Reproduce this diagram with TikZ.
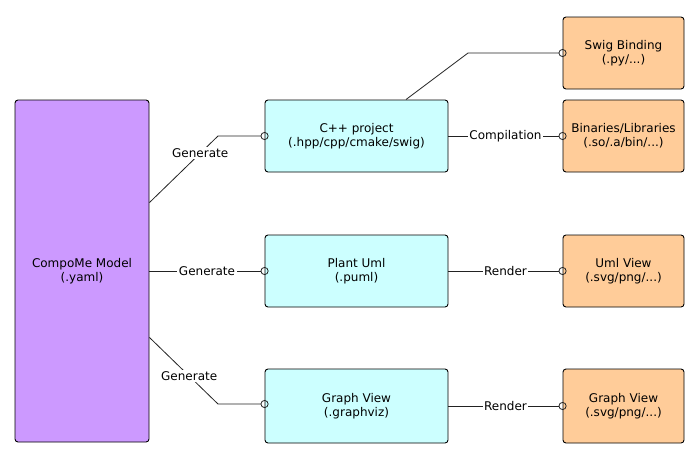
\documentclass[tikz,border=0pt]{standalone}
\usepackage{fontspec}
\setmainfont{DejaVu Sans}
\usetikzlibrary{arrows.meta}
\definecolor{modelfill}{HTML}{CC99FF}
\definecolor{srcfill}{HTML}{CCFFFF}
\definecolor{outfill}{HTML}{FFCC99}
\definecolor{wire}{HTML}{222222}
\begin{document}
\begin{tikzpicture}[x=1pt,y=-1pt,
  font=\fontsize{12}{14}\selectfont,
  box/.style={draw=black, line width=0.9pt, rounded corners=3pt, align=center,
    inner sep=0pt, minimum width=183pt, minimum height=72pt},
  outbox/.style={box, fill=outfill, minimum width=121pt},
  srcbox/.style={box, fill=srcfill},
  conn/.style={draw=wire, line width=0.8pt,
    -{Circle[open,length=8pt,width=8pt,line width=0.8pt]}, shorten >=-4pt},
  lbl/.style={fill=white, inner sep=1.5pt, text=black}]
\useasboundingbox (0,0) rectangle (700,458);

% model and generated artefacts
\node[box, fill=modelfill, minimum width=134pt, minimum height=342pt] (model) at (82,271)
  {CompoMe Model\\(.yaml)};
\node[srcbox] (cpp) at (356.5,136) {C++ project\\(.hpp/cpp/cmake/swig)};
\node[srcbox] (puml) at (356.5,271) {Plant Uml\\(.puml)};
\node[srcbox, minimum height=74pt] (gviz) at (356.5,406) {Graph View\\(.graphviz)};

% final outputs
\node[outbox] (swig) at (623.5,53) {Swig Binding\\(.py/...)};
\node[outbox] (bin) at (623.5,136) {Binaries/Libraries\\(.so/.a/bin/...)};
\node[outbox] (uml) at (623.5,271) {Uml View\\(.svg/png/...)};
\node[outbox, minimum height=74pt] (gout) at (623.5,406) {Graph View\\(.svg/png/...)};

% bend points
\coordinate (bcpp) at (218,136);
\coordinate (bgv) at (218,404);
\coordinate (bswig) at (468,53);

% generation links
\draw[conn] ([yshift=-103pt]model.north east) -- node[lbl, pos=0.74] {Generate} (bcpp) -- (cpp.west);
\draw[conn] (model.east) -- node[lbl] {Generate} (puml.west);
\draw[conn] ([yshift=105pt]model.south east) -- node[lbl, pos=0.58] {Generate} (bgv) -- ([yshift=2pt]gviz.west);

% build / render links
\draw[conn] ([xshift=49.5pt]cpp.north) -- (bswig) -- (swig.west);
\draw[conn] (cpp.east) -- node[lbl] {Compilation} (bin.west);
\draw[conn] (puml.east) -- node[lbl] {Render} (uml.west);
\draw[conn] (gviz.east) -- node[lbl] {Render} (gout.west);
\end{tikzpicture}
\end{document}
